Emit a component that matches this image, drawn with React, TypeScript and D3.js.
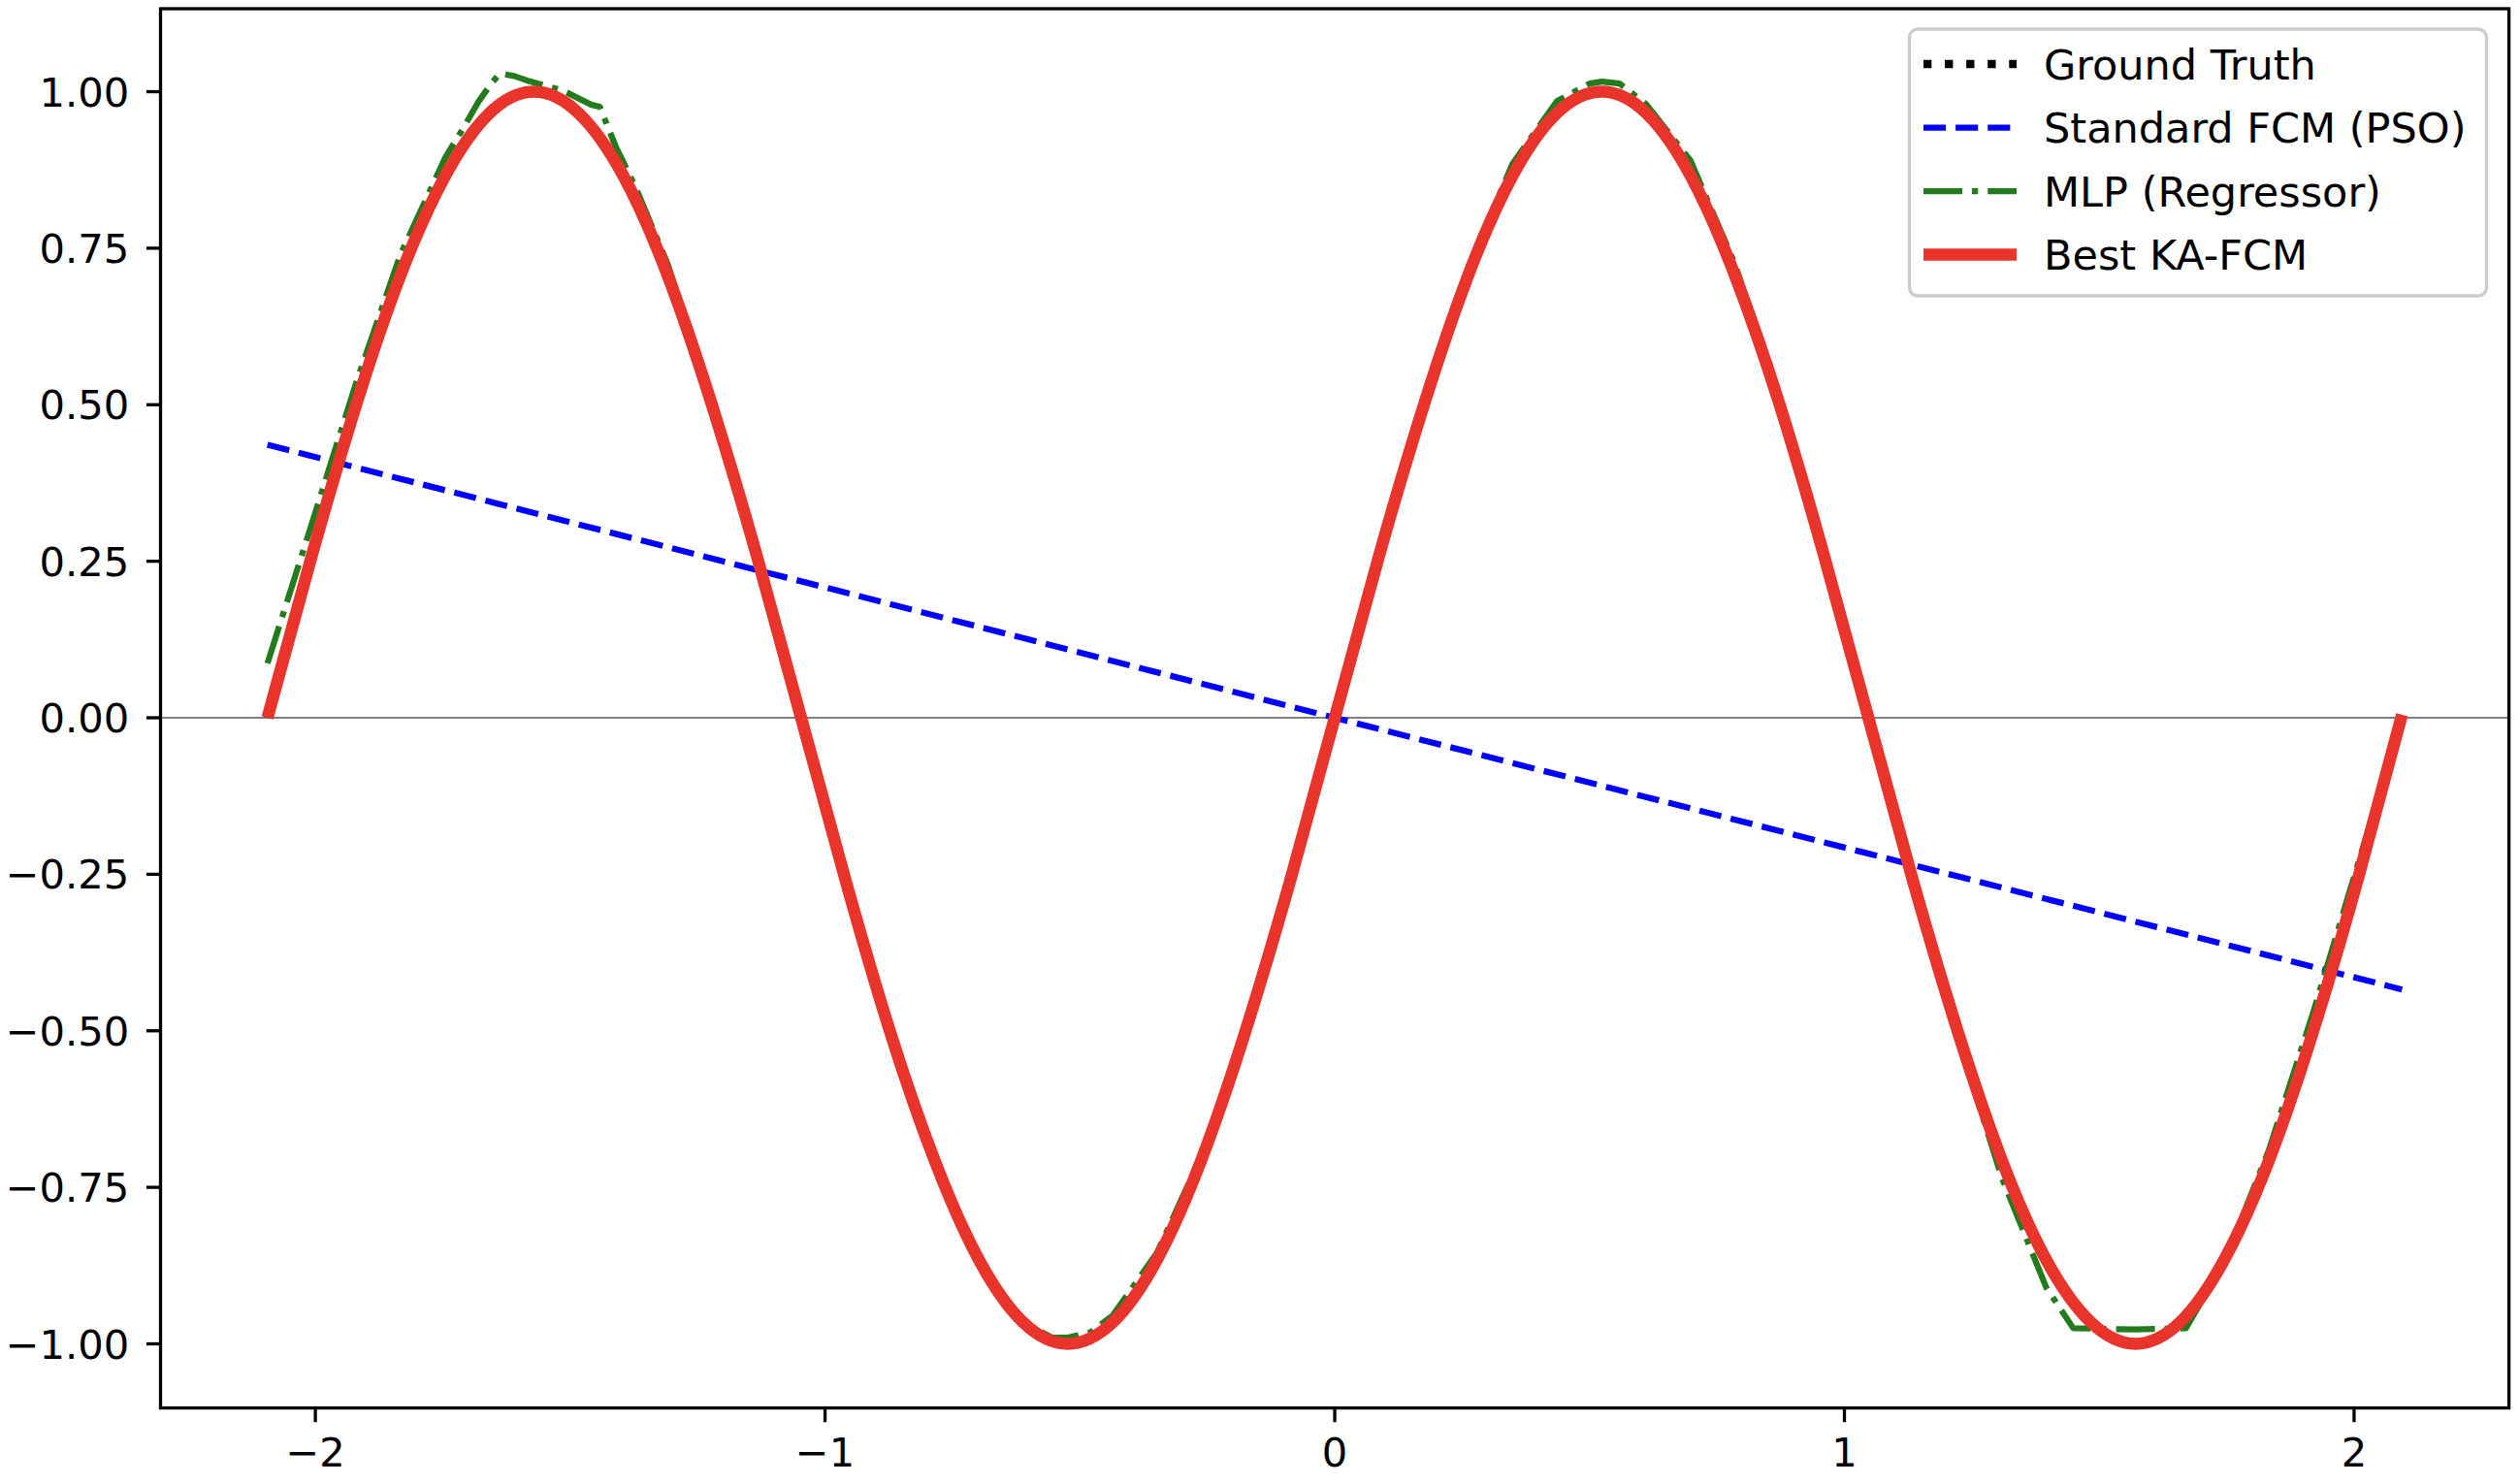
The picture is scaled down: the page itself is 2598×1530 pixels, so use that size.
import React from "react";
import * as d3 from "d3";

// ---------- data ----------
const gridX = [
  -2.094, -2.007, -1.92, -1.833, -1.745, -1.658, -1.571, -1.484, -1.396, -1.309, -1.222, -1.134,
  -1.047, -0.96, -0.873, -0.785, -0.698, -0.611, -0.524, -0.436, -0.349, -0.262, -0.175, -0.087,
  0, 0.087, 0.175, 0.262, 0.349, 0.436, 0.524, 0.611, 0.698, 0.785, 0.873, 0.96,
  1.047, 1.134, 1.222, 1.309, 1.396, 1.484, 1.571, 1.658, 1.745, 1.833, 1.92, 2.007, 2.094,
];
const groundTruth = [
  0, 0.259, 0.5, 0.707, 0.866, 0.966, 1, 0.966, 0.866, 0.707, 0.5, 0.259,
  0, -0.259, -0.5, -0.707, -0.866, -0.966, -1, -0.966, -0.866, -0.707, -0.5, -0.259,
  0, 0.259, 0.5, 0.707, 0.866, 0.966, 1, 0.966, 0.866, 0.707, 0.5, 0.259,
  0, -0.259, -0.5, -0.707, -0.866, -0.966, -1, -0.966, -0.866, -0.707, -0.5, -0.259, 0,
];
const kaFcm = [
  0, 0.259, 0.5, 0.707, 0.866, 0.966, 1, 0.966, 0.866, 0.707, 0.5, 0.259,
  0, -0.259, -0.5, -0.707, -0.866, -0.966, -1, -0.966, -0.866, -0.707, -0.5, -0.259,
  0, 0.259, 0.5, 0.707, 0.866, 0.966, 1, 0.966, 0.866, 0.707, 0.5, 0.259,
  0, -0.259, -0.5, -0.707, -0.866, -0.966, -1, -0.966, -0.866, -0.707, -0.5, -0.259, 0.005,
];
const fcmX = [-2.094, 0, 2.094];
const fcmY = [0.436, 0.0, -0.434];

const mlpX = [
  -2.094, -2.007, -1.92, -1.833, -1.745, -1.711, -1.68, -1.655, -1.638, -1.61, -1.585, -1.515,
  -1.458, -1.442, -1.41, -1.396, -1.369, -1.309, -1.222, -1.134, -1.047, -0.96, -0.873, -0.785,
  -0.698, -0.611, -0.555, -0.524, -0.48, -0.436, -0.349, -0.262, -0.175, -0.087, 0, 0.087,
  0.175, 0.262, 0.349, 0.436, 0.5, 0.524, 0.559, 0.611, 0.698, 0.785, 0.873, 0.96,
  1.047, 1.134, 1.222, 1.309, 1.396, 1.449, 1.571, 1.67, 1.745, 1.833, 1.92, 2.007, 2.094,
];
const mlpY = [
  0.087, 0.31, 0.535, 0.74, 0.895, 0.94, 0.984, 1.013, 1.029, 1.025, 1.018, 1.002,
  0.979, 0.976, 0.911, 0.888, 0.842, 0.725, 0.51, 0.26, 0.0, -0.265, -0.51, -0.715,
  -0.87, -0.965, -0.99, -0.99, -0.982, -0.955, -0.855, -0.7, -0.495, -0.255, 0.005, 0.265,
  0.51, 0.72, 0.885, 0.985, 1.013, 1.016, 1.013, 0.98, 0.89, 0.725, 0.51, 0.26,
  0.0, -0.26, -0.51, -0.735, -0.91, -0.975, -0.977, -0.975, -0.87, -0.69, -0.47, -0.235, 0.0,
];

const xTicks = [-2, -1, 0, 1, 2];
const yTicks = [1.0, 0.75, 0.5, 0.25, 0.0, -0.25, -0.5, -0.75, -1.0];
const legendLabels = ["Ground Truth", "Standard FCM (PSO)", "MLP (Regressor)", "Best KA-FCM"];

// ---------- layout ----------
const W = 2598;
const H = 1530;
const PLOT = { left: 165.5, right: 2586.6, top: 9, bottom: 1451.6 };
const FONT = "'DejaVu Sans', sans-serif";
const TICK_FS = 41.7;
const LEG_FS = 43;

const COLORS = {
  gt: "#000000",
  fcm: "#0000ff",
  mlp: "#247b1e",
  ka: "#e8342a",
};

const fmtTick = (v: number, digits: number) =>
  (v < 0 ? "\u2212" : "") + Math.abs(v).toFixed(digits);

export default function App() {
  const x = d3.scaleLinear().domain([-2.3038, 2.3038]).range([PLOT.left, PLOT.right]);
  const y = d3.scaleLinear().domain([-1.1024, 1.1325]).range([PLOT.bottom, PLOT.top]);

  const smooth = d3
    .line<[number, number]>()
    .x((d) => x(d[0]))
    .y((d) => y(d[1]))
    .curve(d3.curveNatural);
  const straight = d3
    .line<[number, number]>()
    .x((d) => x(d[0]))
    .y((d) => y(d[1]));

  const gtPts = gridX.map((v, i) => [v, groundTruth[i]] as [number, number]);
  const kaPts = gridX.map((v, i) => [v, kaFcm[i]] as [number, number]);
  const fcmPts = fcmX.map((v, i) => [v, fcmY[i]] as [number, number]);
  const mlpPts = mlpX.map((v, i) => [v, mlpY[i]] as [number, number]);

  const lwGT = 8.33;
  const lwFcm = 6.25;
  const lwMlp = 6.25;
  const lwKa = 12.5;

  const gtDash = `${lwGT * 1} ${lwGT * 1.65}`;
  const fcmDash = `${lwFcm * 3.7} ${lwFcm * 1.6}`;
  const mlpDash = `${lwMlp * 6.4} ${lwMlp * 1.6} ${lwMlp * 1} ${lwMlp * 1.6}`;

  const legBox = { x: 1968.5, y: 30, w: 595, h: 275 };
  const legRow0 = 66;
  const legRowStep = 65.5;
  const hx0 = 1983;
  const hx1 = 2079;
  const textX = 2107;

  const legendStyles = [
    { stroke: COLORS.gt, w: lwGT, dash: gtDash },
    { stroke: COLORS.fcm, w: lwFcm, dash: fcmDash },
    { stroke: COLORS.mlp, w: lwMlp, dash: mlpDash },
    { stroke: COLORS.ka, w: lwKa, dash: undefined as string | undefined },
  ];

  return (
    <svg
      width={W}
      height={H}
      viewBox={`0 0 ${W} ${H}`}
      style={{ position: "absolute", left: 0, top: 0, background: "#ffffff" }}
      fontFamily={FONT}
    >
      <rect x={0} y={0} width={W} height={H} fill="#ffffff" />
      <defs>
        <clipPath id="plotclip">
          <rect
            x={PLOT.left}
            y={PLOT.top}
            width={PLOT.right - PLOT.left}
            height={PLOT.bottom - PLOT.top}
          />
        </clipPath>
      </defs>

      <g clipPath="url(#plotclip)">
        {/* zero line */}
        <line
          x1={PLOT.left}
          x2={PLOT.right}
          y1={y(0)}
          y2={y(0)}
          stroke="#808080"
          strokeWidth={2.1}
        />
        <path
          d={smooth(gtPts) || ""}
          fill="none"
          stroke={COLORS.gt}
          strokeWidth={lwGT}
          strokeDasharray={gtDash}
        />
        <path
          d={straight(fcmPts) || ""}
          fill="none"
          stroke={COLORS.fcm}
          strokeWidth={lwFcm}
          strokeDasharray={fcmDash}
        />
        <path
          d={straight(mlpPts) || ""}
          fill="none"
          stroke={COLORS.mlp}
          strokeWidth={lwMlp}
          strokeDasharray={mlpDash}
          strokeLinejoin="round"
        />
        <path
          d={smooth(kaPts) || ""}
          fill="none"
          stroke={COLORS.ka}
          strokeWidth={lwKa}
          strokeLinejoin="round"
        />
      </g>

      {/* spines */}
      <rect
        x={PLOT.left}
        y={PLOT.top}
        width={PLOT.right - PLOT.left}
        height={PLOT.bottom - PLOT.top}
        fill="none"
        stroke="#000"
        strokeWidth={3.3}
      />

      {/* y ticks */}
      {yTicks.map((t) => (
        <g key={`y${t}`}>
          <line
            x1={PLOT.left - 14.6}
            x2={PLOT.left}
            y1={y(t)}
            y2={y(t)}
            stroke="#000"
            strokeWidth={3.3}
          />
          <text
            x={PLOT.left - 14.6 - 17.5}
            y={y(t) + 15}
            textAnchor="end"
            fontSize={TICK_FS}
            fill="#000"
          >
            {fmtTick(t, 2)}
          </text>
        </g>
      ))}

      {/* x ticks */}
      {xTicks.map((t) => (
        <g key={`x${t}`}>
          <line
            x1={x(t)}
            x2={x(t)}
            y1={PLOT.bottom}
            y2={PLOT.bottom + 14.6}
            stroke="#000"
            strokeWidth={3.3}
          />
          <text
            x={x(t)}
            y={PLOT.bottom + 14.6 + 14.6 + 31}
            textAnchor="middle"
            fontSize={TICK_FS}
            fill="#000"
          >
            {fmtTick(t, 0)}
          </text>
        </g>
      ))}

      {/* legend */}
      <rect
        x={legBox.x}
        y={legBox.y}
        width={legBox.w}
        height={legBox.h}
        rx={8.6}
        ry={8.6}
        fill="#ffffff"
        fillOpacity={0.8}
        stroke="#cccccc"
        strokeWidth={3.3}
      />
      {legendLabels.map((lab, i) => {
        const cy = legRow0 + i * legRowStep;
        const s = legendStyles[i];
        return (
          <g key={lab}>
            <line
              x1={hx0}
              x2={hx1}
              y1={cy}
              y2={cy}
              stroke={s.stroke}
              strokeWidth={s.w}
              strokeDasharray={s.dash}
            />
            <text x={textX} y={cy + 15.5} fontSize={LEG_FS} fill="#000">
              {lab}
            </text>
          </g>
        );
      })}
    </svg>
  );
}
